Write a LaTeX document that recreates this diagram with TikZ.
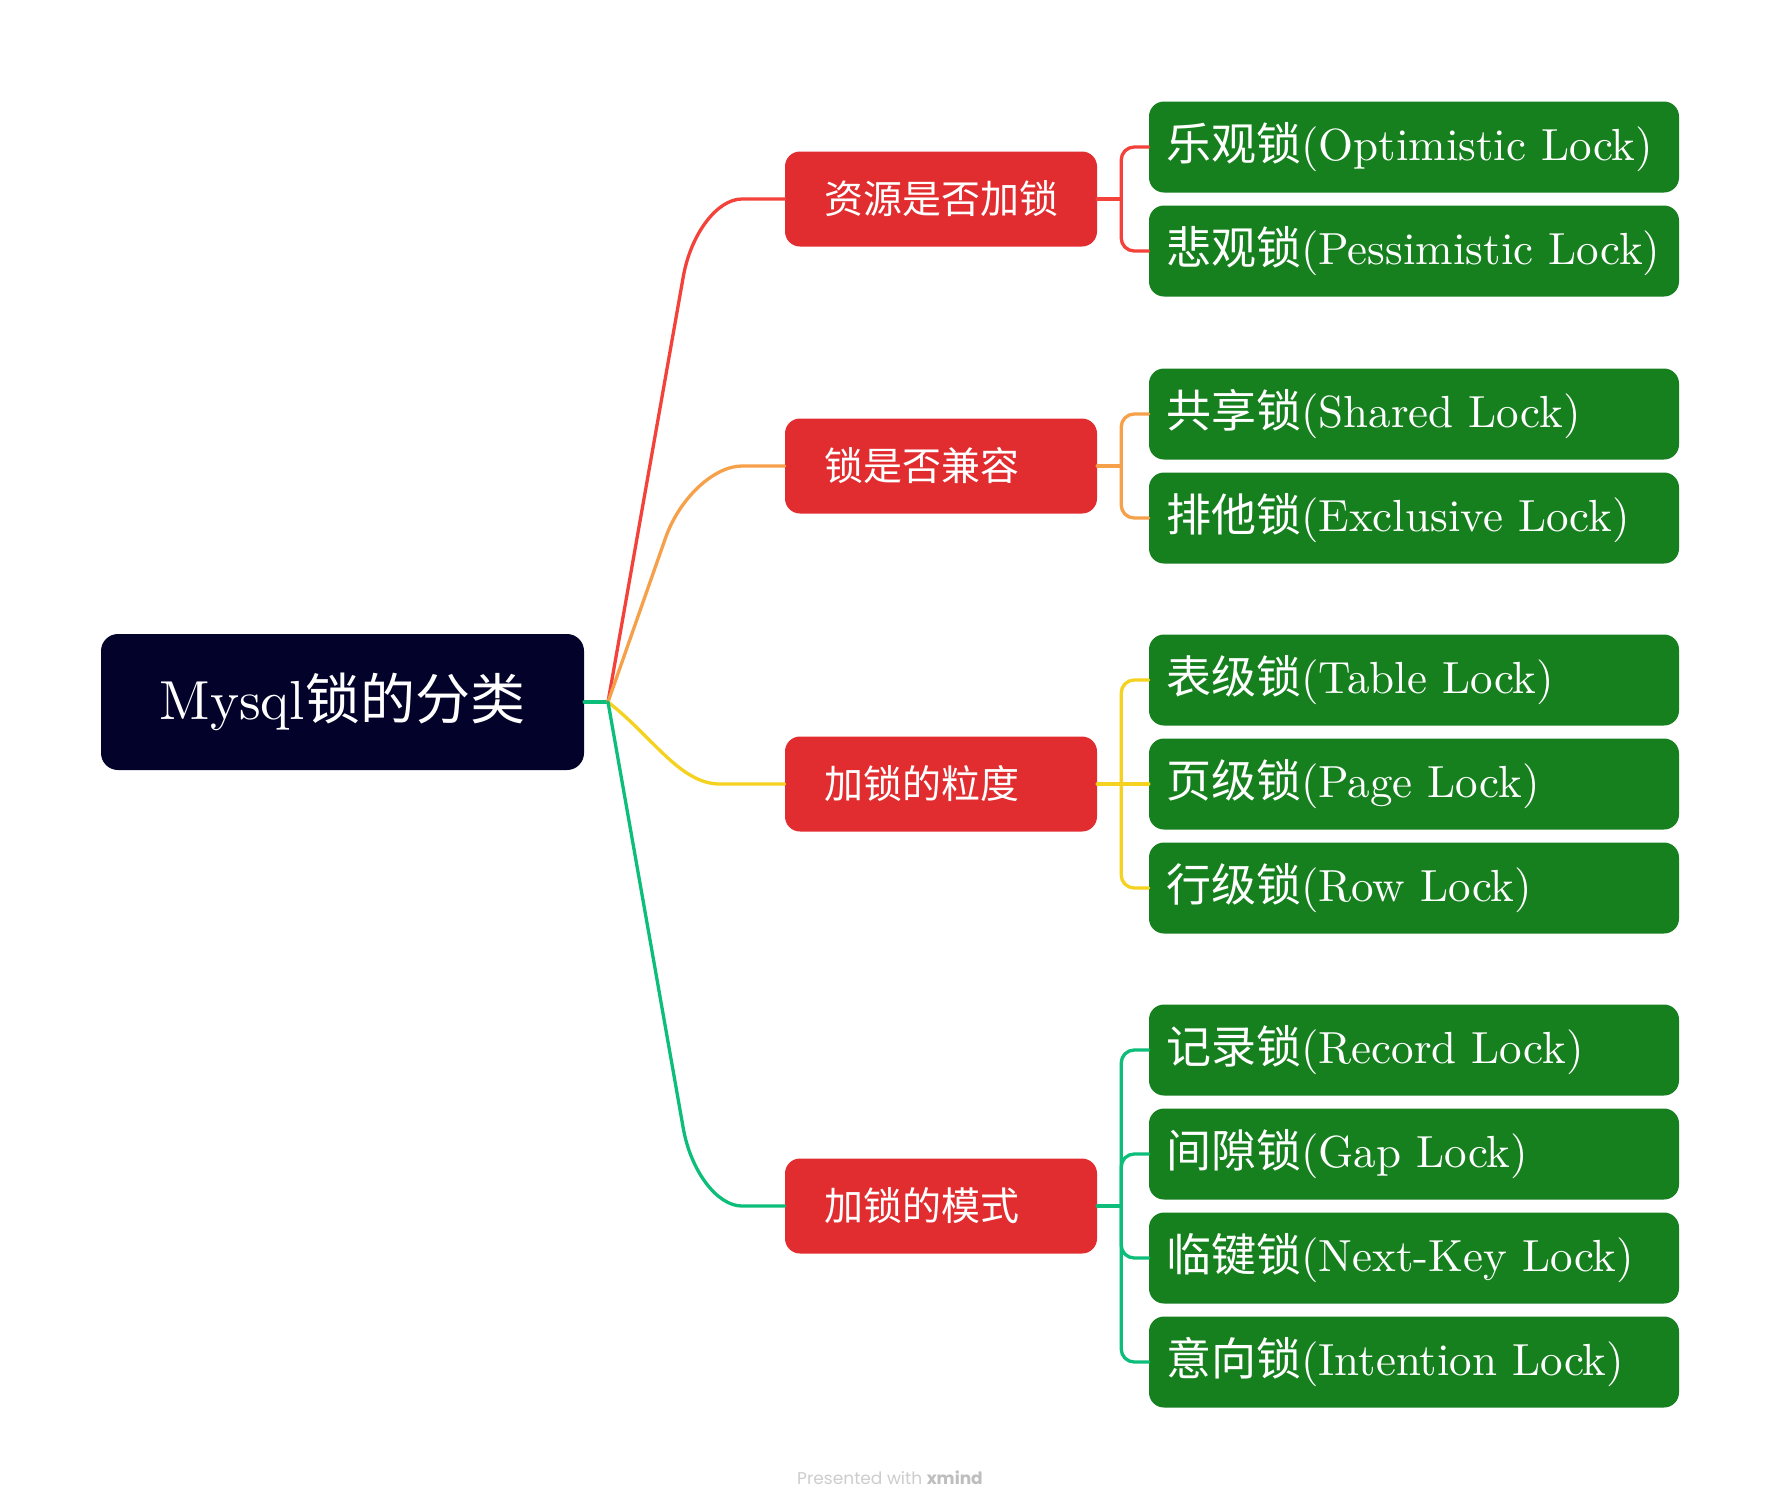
\documentclass[tikz,border=0pt]{standalone}
\usepackage{fontspec}
\setmainfont{lmroman10-regular.otf}
\newfontfamily\cjk{Noto Sans CJK SC}
\newfontfamily\wmfont{Poppins}
\newcommand\zhtxt[1]{{\cjk #1}}
\definecolor{rootfill}{RGB}{2,2,43}
\definecolor{redfill}{RGB}{226,45,48}
\definecolor{greenfill}{RGB}{22,128,30}
\definecolor{lred}{RGB}{244,65,58}
\definecolor{lorange}{RGB}{246,160,74}
\definecolor{lyellow}{RGB}{245,210,31}
\definecolor{lgreen}{RGB}{13,190,122}
\definecolor{wmgray}{RGB}{205,205,205}
\definecolor{wmgrayb}{RGB}{190,190,190}
\tikzset{
  rootbox/.style={fill=rootfill, rounded corners=17pt, minimum width=483pt, minimum height=136pt, inner sep=0pt, text=white, font=\fontsize{55}{62}\selectfont},
  redbox/.style={fill=redfill, rounded corners=15pt, minimum height=95pt, inner xsep=39pt, inner ysep=0pt, text=white, font=\fontsize{39}{45}\selectfont},
  greenbox/.style={fill=greenfill, rounded corners=15pt, minimum height=91pt, inner xsep=17pt, inner ysep=0pt, text=white, font=\fontsize{45}{52}\selectfont},
  conn/.style={line width=3.3pt, line cap=round, line join=round},
  brk/.style={conn, rounded corners=13pt},
}
\newcommand\redtxt[1]{\makebox[234pt][l]{#1}}
\newcommand\grntxt[1]{\makebox[496pt][l]{#1}}
\begin{document}
\begin{tikzpicture}[x=1pt,y=-1pt]
\useasboundingbox (0,0) rectangle (1778,1508);
\fill[white] (0,0) rectangle (1778,1508);

% root
\node[rootbox] (root) at (342.5,702) {Mysql\zhtxt{锁的分类}};
\coordinate (fan) at (608,702);

% level 1
\node[redbox] (b1) at (941,199) {\redtxt{\zhtxt{资源是否加锁}}};
\node[redbox] (b2) at (941,466) {\redtxt{\zhtxt{锁是否兼容}}};
\node[redbox] (b3) at (941,784) {\redtxt{\zhtxt{加锁的粒度}}};
\node[redbox] (b4) at (941,1206) {\redtxt{\zhtxt{加锁的模式}}};

% level 2
\node[greenbox] (g1) at (1414,147) {\grntxt{\zhtxt{乐观锁}(Optimistic Lock)}};
\node[greenbox] (g2) at (1414,251) {\grntxt{\zhtxt{悲观锁}(Pessimistic Lock)}};
\node[greenbox] (g3) at (1414,414) {\grntxt{\zhtxt{共享锁}(Shared Lock)}};
\node[greenbox] (g4) at (1414,518) {\grntxt{\zhtxt{排他锁}(Exclusive Lock)}};
\node[greenbox] (g5) at (1414,680) {\grntxt{\zhtxt{表级锁}(Table Lock)}};
\node[greenbox] (g6) at (1414,784) {\grntxt{\zhtxt{页级锁}(Page Lock)}};
\node[greenbox] (g7) at (1414,888) {\grntxt{\zhtxt{行级锁}(Row Lock)}};
\node[greenbox] (g8) at (1414,1050) {\grntxt{\zhtxt{记录锁}(Record Lock)}};
\node[greenbox] (g9) at (1414,1154) {\grntxt{\zhtxt{间隙锁}(Gap Lock)}};
\node[greenbox] (g10) at (1414,1258) {\grntxt{\zhtxt{临键锁}(Next-Key Lock)}};
\node[greenbox] (g11) at (1414,1362) {\grntxt{\zhtxt{意向锁}(Intention Lock)}};

% root to level 1
\draw[conn, lgreen] (root.east) -- (fan);
\draw[conn, lred] (fan) -- (683.4,276) .. controls (691,234) and (717,199) .. (742,199) -- (b1.west);
\draw[conn, lorange] (fan) -- (665.5,538) .. controls (679.5,498) and (714,466) .. (742,466) -- (b2.west);
\draw[conn, lyellow] (fan) .. controls (653,737) and (680,784) .. (720,784) -- (b3.west);
\draw[conn, lgreen] (fan) -- (683.4,1129) .. controls (691,1171) and (717,1206) .. (742,1206) -- (b4.west);

% level 1 to level 2
\coordinate (j1) at ([xshift=24pt]b1.east);
\coordinate (j2) at ([xshift=24pt]b2.east);
\coordinate (j3) at ([xshift=24pt]b3.east);
\coordinate (j4) at ([xshift=24pt]b4.east);

\draw[conn, lred] (b1.east) -- (j1);
\draw[brk, lred] (j1) |- (g1.west);
\draw[brk, lred] (j1) |- (g2.west);

\draw[conn, lorange] (b2.east) -- (j2);
\draw[brk, lorange] (j2) |- (g3.west);
\draw[brk, lorange] (j2) |- (g4.west);

\draw[conn, lyellow] (b3.east) -- (j3);
\draw[brk, lyellow] (j3) |- (g5.west);
\draw[conn, lyellow] (j3) -- (g6.west);
\draw[brk, lyellow] (j3) |- (g7.west);

\draw[conn, lgreen] (b4.east) -- (j4);
\draw[brk, lgreen] (j4) |- (g8.west);
\draw[brk, lgreen] (j4) |- (g9.west);
\draw[brk, lgreen] (j4) |- (g10.west);
\draw[brk, lgreen] (j4) |- (g11.west);

% watermark
\node[font=\wmfont\fontsize{17}{20}\selectfont, text=wmgray, inner sep=0pt] (wm) at (890,1478) {Presented with \textcolor{wmgrayb}{\bfseries xmind}};
\end{tikzpicture}
\end{document}
